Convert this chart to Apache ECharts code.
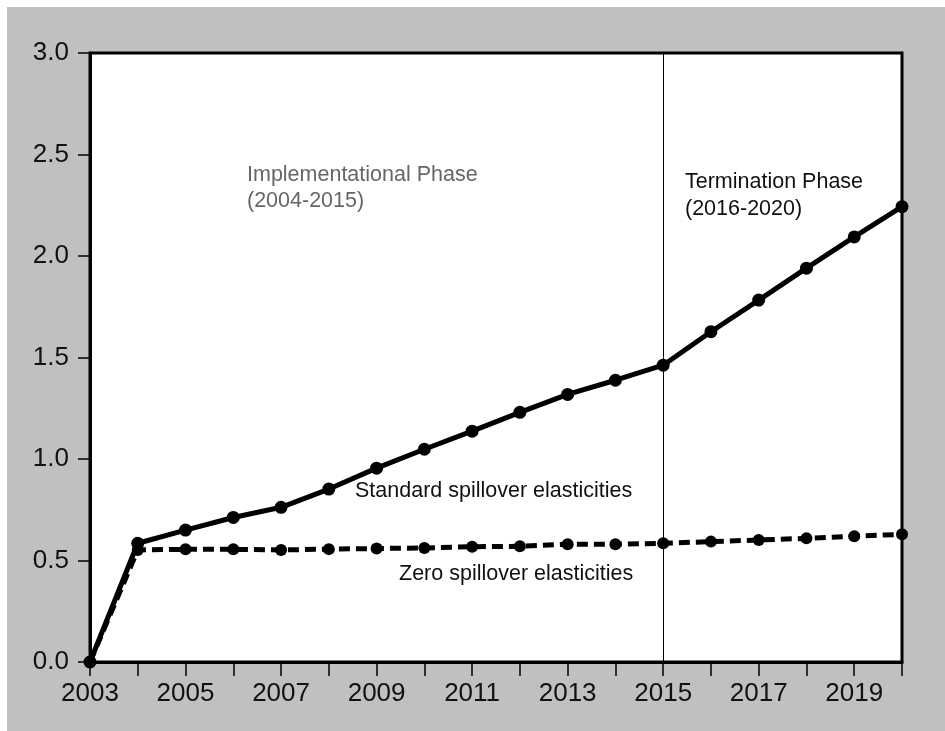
<!DOCTYPE html>
<html>
<head>
<meta charset="utf-8">
<script src="https://cdn.jsdelivr.net/npm/echarts@6/dist/echarts.min.js"></script>
<style>
html,body{margin:0;padding:0;background:#fff;}
#chart{width:945px;height:731px;}
</style>
</head>
<body>
<div id="chart"></div>
<script>
const years = [2003,2004,2005,2006,2007,2008,2009,2010,2011,2012,2013,2014,2015,2016,2017,2018,2019,2020];
const standardSpillover = [0.00,0.585,0.650,0.712,0.762,0.852,0.955,1.048,1.137,1.230,1.318,1.388,1.462,1.627,1.783,1.940,2.094,2.243];
const zeroSpillover = [0.00,0.552,0.555,0.555,0.552,0.556,0.559,0.562,0.568,0.570,0.580,0.580,0.585,0.593,0.601,0.609,0.620,0.629];
const yTicks = [0,0.5,1.0,1.5,2.0,2.5,3.0];
const phaseBoundary = 2015;

const font = 'Liberation Sans, Arial, sans-serif';
const chart = echarts.init(document.getElementById('chart'), null, {renderer:'canvas'});

const toPairs = arr => years.map((y,i)=>[y, arr[i]]);

chart.setOption({
  backgroundColor: '#fff',
  animation: false,
  graphic: [
    {type:'rect', z:-10, shape:{x:7,y:7,width:938,height:724}, style:{fill:'#c0c0c0'}},
    {type:'text', left:247, top:164, z:100, style:{text:'Implementational Phase', fill:'#666', font:'21.5px ' + font}},
    {type:'text', left:247, top:190, z:100, style:{text:'(2004-2015)', fill:'#666', font:'21.5px ' + font}},
    {type:'text', left:685, top:171, z:100, style:{text:'Termination Phase', fill:'#111', font:'21.5px ' + font}},
    {type:'text', left:685, top:198, z:100, style:{text:'(2016-2020)', fill:'#111', font:'21.5px ' + font}},
    {type:'text', left:355, top:480, z:100, style:{text:'Standard spillover elasticities', fill:'#111', font:'21.5px ' + font}},
    {type:'text', left:399, top:563, z:100, style:{text:'Zero spillover elasticities', fill:'#111', font:'21.5px ' + font}}
  ],
  grid: {
    left: 90, top: 53, right: 43, bottom: 69,
    show: true, backgroundColor: '#fff', borderColor: '#000', borderWidth: 3
  },
  xAxis: {
    type: 'value', min: 2003, max: 2020, interval: 1,
    axisLine: {show:true, onZero:false, lineStyle:{color:'#000', width:3}},
    axisTick: {show:true, inside:false, length:14, lineStyle:{color:'#000', width:1.5}},
    axisLabel: {
      color:'#111', fontSize:26, fontFamily:font, margin:19,
      formatter: v => (v % 2 === 1 ? String(v) : '')
    },
    splitLine: {show:false}
  },
  yAxis: {
    type: 'value', min: 0, max: 3, interval: 0.5,
    axisLine: {show:true, lineStyle:{color:'#000', width:3}},
    axisTick: {show:true, inside:false, length:12, lineStyle:{color:'#000', width:1.5}},
    axisLabel: {
      color:'#111', fontSize:26, fontFamily:font, margin:21,
      formatter: v => (yTicks.includes(+v.toFixed(1)) ? v.toFixed(1) : '')
    },
    splitLine: {show:false}
  },
  series: [
    {
      name: 'Zero spillover elasticities',
      type: 'line',
      data: toPairs(zeroSpillover),
      symbol: 'circle', symbolSize: 12, showSymbol: true,
      itemStyle: {color:'#000'},
      lineStyle: {color:'#000', width:5, type:[11,6]},
      z: 3,
      markLine: {
        silent: true, symbol: 'none', z: 1,
        label: {show:false},
        lineStyle: {color:'#000', width:1, type:'solid'},
        data: [{xAxis: phaseBoundary}]
      }
    },
    {
      name: 'Standard spillover elasticities',
      type: 'line',
      data: toPairs(standardSpillover),
      symbol: 'circle', symbolSize: 13, showSymbol: true,
      itemStyle: {color:'#000'},
      lineStyle: {color:'#000', width:5},
      z: 4
    }
  ]
});
</script>
</body>
</html>
